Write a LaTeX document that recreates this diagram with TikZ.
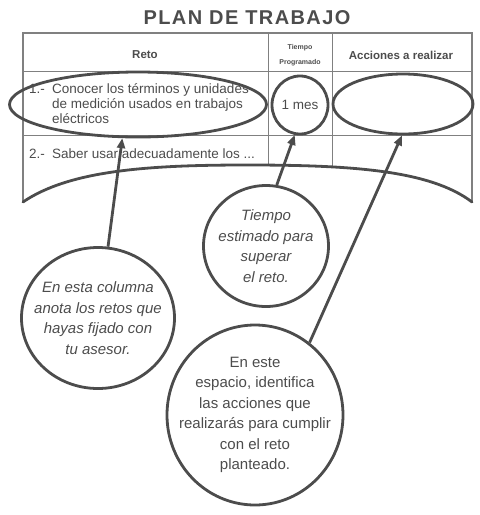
\documentclass[tikz,border=0pt]{standalone}
\usepackage{fontspec}
\setmainfont{Liberation Sans}
\usepackage{tikz}
\usetikzlibrary{arrows.meta}
\usetikzlibrary{shapes.geometric}
\definecolor{ink}{gray}{0.3}
\definecolor{rulegray}{gray}{0.5}

\tikzset{
  ring/.style={ellipse, draw=ink, line width=2.8pt, inner sep=0pt},
  pointer/.style={draw=ink, line width=2.8pt, -{Triangle[length=10pt,width=8pt]}},
  tabtext/.style={text=ink, font=\fontsize{13.5}{15}\selectfont, inner sep=0pt, anchor=base west},
  headtext/.style={text=ink, font=\bfseries\fontsize{11.5}{14}\selectfont},
  note/.style={text=ink, align=center, font=\itshape\fontsize{15}{20.5}\selectfont}
}

\begin{document}
\begin{tikzpicture}[x=1pt,y=-1pt]
        \useasboundingbox (0,0) rectangle (480,515);
        % Title
        \node[text=ink, font=\bfseries\fontsize{20}{24}\selectfont\addfontfeature{LetterSpace=7}] (title) at (247,18) {PLAN DE TRABAJO};
        % Draw the table frame and rows
        \draw[rulegray, line width=1.5pt] (23,202) -- (23,33) -- (472,33) -- (472,202);
        \draw[rulegray, line width=0.8pt] (23,71) -- (472,71);
        \draw[rulegray, line width=0.8pt] (23,135) -- (472,135);
        % Column lines end at the curl
        \begin{scope}
          \clip (23,33) -- (23,202) .. controls (70,170) and (150,165) .. (247,165)
                .. controls (350,165) and (430,170) .. (472,202) -- (472,33) -- cycle;
          \draw[rulegray, line width=0.8pt] (268,33) -- (268,210);
          \draw[rulegray, line width=0.8pt] (332,33) -- (332,210);
        \end{scope}
        \draw[ink, line width=2.8pt, line cap=round] (23,202) .. controls (70,170) and (150,165) .. (247,165)
              .. controls (350,165) and (430,170) .. (472,202);
        % Header
        \node[headtext] (reto) at (145,55) {Reto};
        \node[text=ink, font=\bfseries\fontsize{7}{15}\selectfont, align=center] (tiempo) at (300,55) {Tiempo\\Programado};
        \node[headtext] (acciones) at (401,55) {Acciones a realizar};
        % Rows
        \node[tabtext] (num1) at (29,93) {1.-};
        \node[tabtext] (row1a) at (52,93) {Conocer los términos y unidades};
        \node[tabtext] (row1b) at (52,108) {de medición usados en trabajos};
        \node[tabtext] (row1c) at (52,123) {eléctricos};
        \node[tabtext] (num2) at (29,158) {2.-};
        \node[tabtext] (row2) at (52,158) {Saber usar adecuadamente los ...};
        % Marked cells
        \node[ring, minimum width=257pt, minimum height=65pt] (reto1) at (138,104.5) {};
        \node[ring, minimum width=56pt, minimum height=58pt, text=ink, font=\fontsize{13.5}{15}\selectfont] (mes) at (300,105) {1 mes};
        \node[ring, minimum width=140pt, minimum height=60pt] (accion1) at (403,104) {};
        % Notes
        \node[ring, minimum width=153pt, minimum height=141pt] (notaA) at (98,318) {};
        \node[note] (textA) at (notaA.center) {En esta columna\\anota los retos que\\hayas fijado con\\tu asesor.};
        \node[ring, minimum width=125pt, minimum height=121pt] (notaB) at (266,246) {};
        \node[note] (textB) at (notaB.center) {Tiempo\\estimado para\\superar\\el reto.};
        \node[ring, minimum width=176pt, minimum height=180pt] (notaC) at (255,415) {};
        \node[note, font=\fontsize{15}{20.5}\selectfont] (textC) at (notaC.center) {En este\\espacio, identifica\\las acciones que\\realizarás para cumplir\\con el reto\\planteado.};
        % Pointers
        \draw[pointer] (notaA.82) -- (reto1.-115);
        \draw[pointer] (notaB.80) -- (mes.-100);
        \draw[pointer] (notaC.53) -- (accion1.-92);
\end{tikzpicture}
\end{document}
